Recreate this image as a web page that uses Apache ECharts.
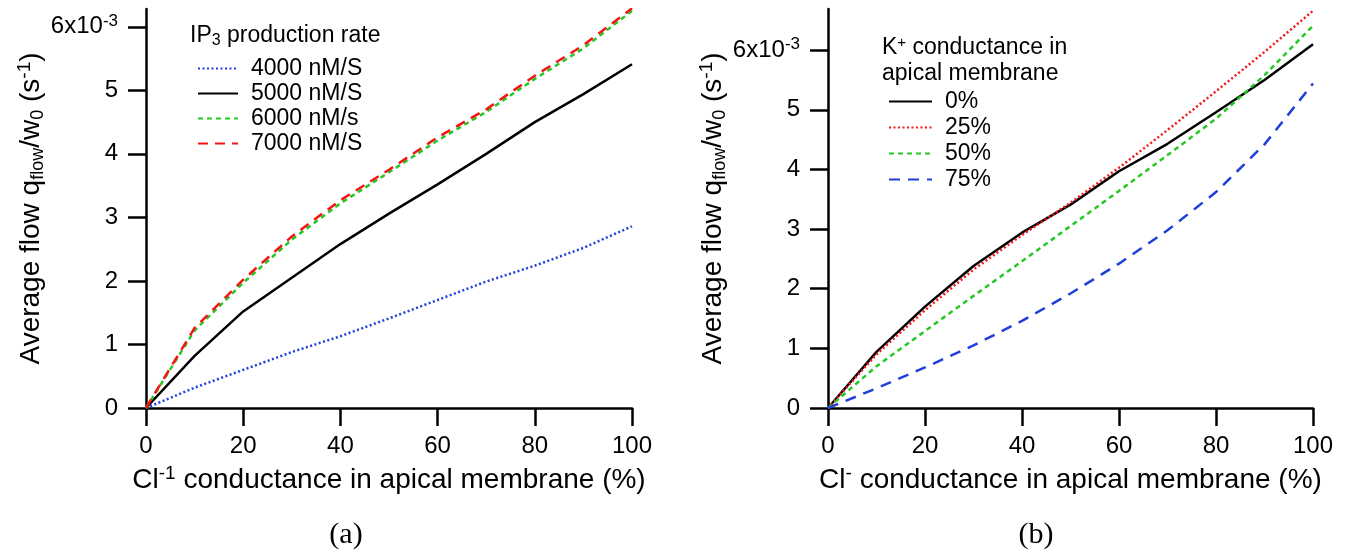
<!DOCTYPE html>
<html>
<head>
<meta charset="utf-8">
<script src="https://cdn.jsdelivr.net/npm/echarts@6/dist/echarts.min.js"></script>
<style>
html,body{margin:0;padding:0;background:#fff;}
#chart{width:1350px;height:551px;}
</style>
</head>
<body>
<div id="chart"></div>
<script>
// ---- data ----
var xPct = [0, 10, 20, 30, 40, 50, 60, 70, 80, 90, 100];
// panel (a): IP3 production rate (values in 1e-3 s^-1)
var ip4000 = [0, 0.32, 0.60, 0.88, 1.13, 1.41, 1.70, 1.99, 2.24, 2.52, 2.86];
var ip5000 = [0, 0.82, 1.52, 2.05, 2.58, 3.06, 3.52, 4.00, 4.50, 4.94, 5.41];
var ip6000 = [0, 1.22, 1.97, 2.65, 3.22, 3.71, 4.21, 4.66, 5.18, 5.66, 6.25];
var ip7000 = [0, 1.26, 2.02, 2.70, 3.27, 3.75, 4.26, 4.70, 5.23, 5.71, 6.29];
// panel (b): K+ conductance in apical membrane
var k0  = [0, 0.94, 1.70, 2.38, 2.94, 3.41, 3.97, 4.43, 4.96, 5.50, 6.10];
var k25 = [0, 0.90, 1.64, 2.32, 2.90, 3.44, 4.03, 4.66, 5.31, 5.97, 6.66];
var k50 = [0, 0.70, 1.29, 1.88, 2.46, 3.05, 3.64, 4.24, 4.85, 5.58, 6.41];
var k75 = [0, 0.33, 0.68, 1.05, 1.46, 1.92, 2.42, 2.98, 3.62, 4.42, 5.44];
var yTicks = [0, 1, 2, 3, 4, 5, 6];
var namesA = ['4000 nM/S', '5000 nM/S', '6000 nM/s', '7000 nM/S'];
var namesB = ['0%', '25%', '50%', '75%'];

function pairs(v){ return xPct.map(function(x,i){ return [x, v[i]]; }); }

var FF = '"Liberation Sans", Arial, Helvetica, sans-serif';
var nameRich = {
  t: {fontSize: 28, lineHeight: 32, fontFamily: FF, color: '#000'},
  sub: {fontSize: 18, lineHeight: 14, verticalAlign: 'bottom', fontFamily: FF, color: '#000'},
  sup: {fontSize: 19, lineHeight: 12, verticalAlign: 'top', fontFamily: FF, color: '#000'}
};
var labelRich = {
  t: {fontSize: 24, lineHeight: 28, fontFamily: FF, color: '#000'},
  sup: {fontSize: 17, lineHeight: 10, verticalAlign: 'top', fontFamily: FF, color: '#000'}
};
var axisLineStyle = {color: '#000', width: 2.5};

function xAx(idx, name){
  return {
    type: 'value', gridIndex: idx, min: 0, max: 100, interval: 20,
    splitLine: {show: false},
    axisLine: {show: true, onZero: false, lineStyle: axisLineStyle},
    axisTick: {show: true, inside: false, length: 18, lineStyle: axisLineStyle},
    axisLabel: {margin: 26, fontSize: 24, fontFamily: FF, color: '#000'},
    name: name, nameLocation: 'middle', nameGap: 56,
    nameTextStyle: {rich: nameRich}
  };
}
function yAx(idx, max){
  return {
    type: 'value', gridIndex: idx, min: 0, max: max, interval: 1,
    splitLine: {show: false},
    axisLine: {show: true, onZero: false, lineStyle: axisLineStyle},
    axisTick: {show: true, inside: false, length: 18, lineStyle: axisLineStyle, customValues: yTicks},
    axisLabel: {
      margin: 28, customValues: yTicks, rich: labelRich,
      formatter: function(v){ return v === 6 ? '{t|6x10}{sup|-3}' : '{t|' + v + '}'; }
    },
    name: '{t|Average flow q}{sub|flow}{t|/w}{sub|0}{t| (s}{sup|-1}{t|)}',
    nameLocation: 'middle', nameGap: 92, nameRotate: 90,
    nameTextStyle: {rich: nameRich}
  };
}
function ser(name, data, color, dash, xi){
  return {
    name: name, type: 'line', xAxisIndex: xi, yAxisIndex: xi,
    data: pairs(data), symbol: 'none', smooth: false, color: color,
    lineStyle: {color: color, width: 2.5, type: dash},
    itemStyle: {color: color}
  };
}
var BLUE = '#1f3fdc', RED = '#f41414', GREEN = '#24c824', BLACK = '#000';
var legendText = {fontSize: 23, lineHeight: 23, fontFamily: FF, color: '#000', padding: [0, 0, 0, 8]};
var legendItem = {opacity: 0, borderWidth: 0};

var option = {
  animation: false,
  backgroundColor: '#fff',
  grid: [
    {left: 146, top: 9, width: 486, height: 399},
    {left: 828, top: 9, width: 485, height: 399}
  ],
  xAxis: [
    xAx(0, '{t|Cl}{sup|-1}{t| conductance in apical membrane (%)}'),
    xAx(1, '{t|Cl}{sup|-}{t| conductance in apical membrane (%)}')
  ],
  yAxis: [yAx(0, 6.28), yAx(1, 6.69)],
  legend: [
    {data: namesA, orient: 'vertical', left: 192, top: 52, itemWidth: 40, itemHeight: 14,
     itemGap: 2, selectedMode: false, textStyle: legendText, itemStyle: legendItem},
    {data: namesB, orient: 'vertical', left: 883, top: 85, itemWidth: 43, itemHeight: 14,
     itemGap: 3, selectedMode: false, textStyle: legendText, itemStyle: legendItem}
  ],
  graphic: [
    {type: 'text', left: 190, top: 24, style: {
      text: '{t|IP}{sub|3}{t| production rate}',
      rich: {
        t: {fontSize: 23, lineHeight: 26, fontFamily: FF, fill: '#000'},
        sub: {fontSize: 16, lineHeight: 10, verticalAlign: 'bottom', fontFamily: FF, fill: '#000'}
      }}},
    {type: 'text', left: 882, top: 35, style: {
      text: '{t|K}{sup|+}{t| conductance in}\n{t|apical membrane}',
      rich: {
        t: {fontSize: 23, lineHeight: 26, fontFamily: FF, fill: '#000'},
        sup: {fontSize: 15, lineHeight: 10, verticalAlign: 'top', fontFamily: FF, fill: '#000'}
      }}},
    {type: 'text', x: 346, y: 535, style: {text: '(a)', font: '30px "Liberation Serif", "DejaVu Serif", serif',
      fill: '#000', align: 'center', verticalAlign: 'middle'}},
    {type: 'text', x: 1036, y: 535, style: {text: '(b)', font: '30px "Liberation Serif", "DejaVu Serif", serif',
      fill: '#000', align: 'center', verticalAlign: 'middle'}}
  ],
  series: [
    ser(namesA[0], ip4000, BLUE, [2, 2.5], 0),
    ser(namesA[1], ip5000, BLACK, 'solid', 0),
    ser(namesA[2], ip6000, GREEN, [5, 4], 0),
    ser(namesA[3], ip7000, RED, [10, 7], 0),
    ser(namesB[0], k0, BLACK, 'solid', 1),
    ser(namesB[1], k25, RED, [2, 2.5], 1),
    ser(namesB[2], k50, GREEN, [5, 4], 1),
    ser(namesB[3], k75, BLUE, [11, 8], 1)
  ]
};
var chart = echarts.init(document.getElementById('chart'), null, {renderer: 'canvas'});
chart.setOption(option);
</script>
</body>
</html>
